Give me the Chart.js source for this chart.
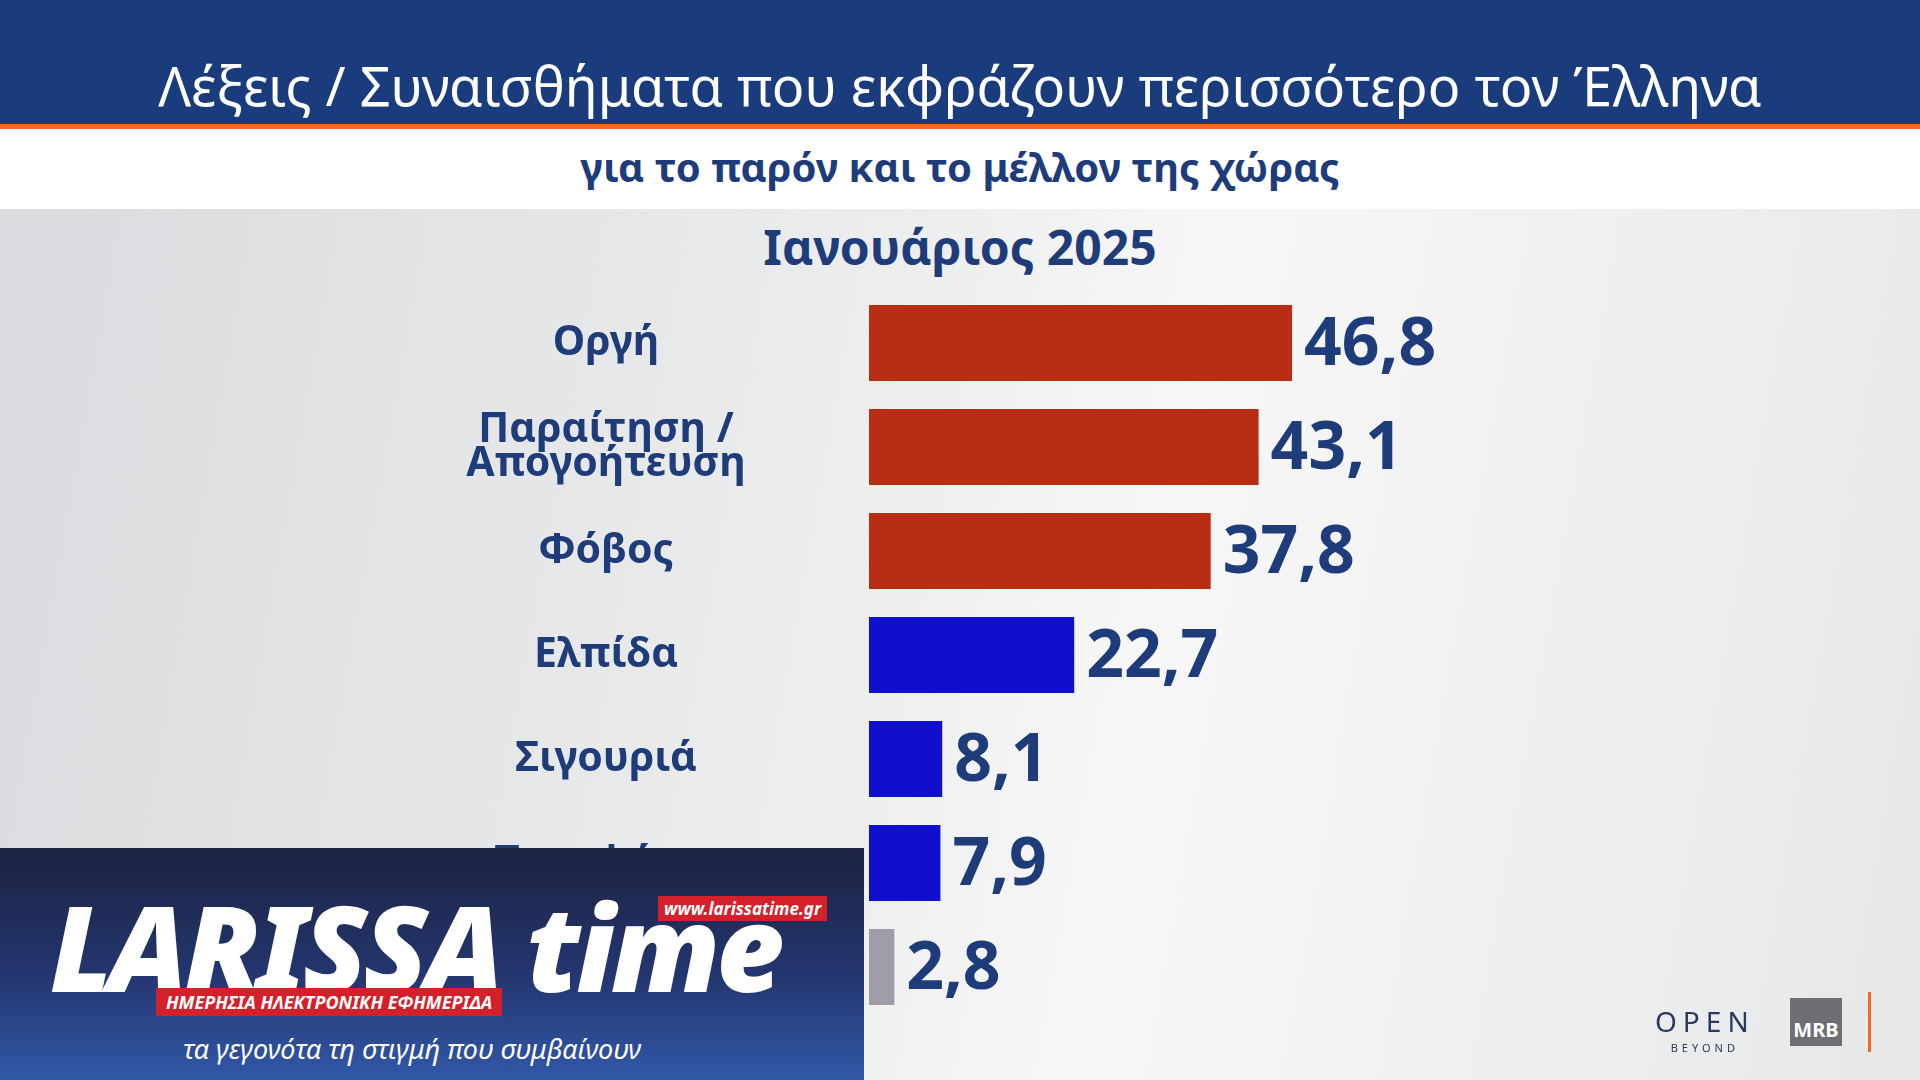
<!DOCTYPE html>
<html>
<head>
<meta charset="utf-8">
<script src="https://cdn.jsdelivr.net/npm/chart.js@4"></script>
<style>
  body { margin:0; width:1920px; height:1080px; overflow:hidden; font-family:"Noto Sans",sans-serif;
    background: linear-gradient(100deg,#d9dadd 0%,#eceded 45%,#f7f7f7 60%,#e6e7e9 100%); position:relative; }
  #head { position:absolute; left:0; top:0; width:1920px; height:124px; background:#1a3c7c; color:#fff;
    font-size:54px; text-align:center; line-height:170px; }
  #orange { position:absolute; left:0; top:124px; width:1920px; height:5px; background:#f26a21; }
  #sub { position:absolute; left:0; top:129px; width:1920px; height:80px; background:#fff; color:#1f3c7a;
    font-weight:bold; font-size:40px; text-align:center; line-height:76px; }
  #period { position:absolute; left:0; top:214px; width:1920px; text-align:center; color:#1f3c7a;
    font-weight:bold; font-size:48px; }
  #wrap { position:absolute; left:343px; top:291px; width:1430px; height:728px; }
  #logo { position:absolute; left:0; top:848px; width:864px; height:232px;
    background:linear-gradient(180deg,#1c2340 0%,#243670 55%,#3158a8 100%); color:#fff; }
  #logo .big { position:absolute; left:50px; top:18px; font-size:118px; font-weight:900; font-style:italic; letter-spacing:-4px; }
  #logo .url { position:absolute; left:658px; top:48px; background:#d4202a; font-size:17px; font-weight:bold; font-style:italic; padding:1px 6px; }
  #logo .red { position:absolute; left:156px; top:140px; background:#d4202a; font-size:18px; font-weight:bold; font-style:italic; padding:2px 10px; }
  #logo .tag { position:absolute; left:183px; top:182px; font-size:27px; font-style:italic; }
  #open { position:absolute; left:1655px; top:1002px; color:#2a3a5a; font-size:28px; letter-spacing:6px; }
  #open small { display:block; font-size:11px; letter-spacing:4px; text-align:center; }
  #mrb { position:absolute; left:1790px; top:998px; width:52px; height:48px; background:#6d6f73; color:#fff;
    font-weight:bold; font-size:20px; text-align:center; line-height:64px; }
  #bar { position:absolute; left:1868px; top:992px; width:3px; height:60px; background:#f26a21; }
</style>
</head>
<body>
<div id="head">Λέξεις / Συναισθήματα που εκφράζουν περισσότερο τον Έλληνα</div>
<div id="orange"></div>
<div id="sub">για το παρόν και το μέλλον της χώρας</div>
<div id="period">Ιανουάριος 2025</div>
<div id="wrap"><canvas id="barChart"></canvas></div>
<div id="open">OPEN<small>BEYOND</small></div>
<div id="mrb">MRB</div>
<div id="bar"></div>
<div id="logo">
  <div class="big">LARISSA time</div>
  <div class="url">www.larissatime.gr</div>
  <div class="red">ΗΜΕΡΗΣΙΑ ΗΛΕΚΤΡΟΝΙΚΗ ΕΦΗΜΕΡΙΔΑ</div>
  <div class="tag">τα γεγονότα τη στιγμή που συμβαίνουν</div>
</div>
<script>
// Κατηγορίες και τιμές
const categories = ['Οργή', ['Παραίτηση /', 'Απογοήτευση'], 'Φόβος', 'Ελπίδα', 'Σιγουριά', 'Περηφάνια', 'ΔΓ/ΔΑ'];
const values = [46.8, 43.1, 37.8, 22.7, 8.1, 7.9, 2.8];
const colors = ['#b82e14', '#b82e14', '#b82e14', '#1010cc', '#1010cc', '#1010cc', '#a09ca8'];

// Ετικέτες τιμών και κατηγοριών
const labelsPlugin = {
  id: 'labelsPlugin',
  afterDatasetsDraw(chart) {
    const ctx = chart.ctx;
    const yScale = chart.scales.y;
    ctx.save();
    ctx.textBaseline = 'middle';
    ctx.fillStyle = '#1f3c7a';
    ctx.font = 'bold 66px "Noto Sans"';
    chart.getDatasetMeta(0).data.forEach((bar, i) => {
      ctx.textAlign = 'left';
      ctx.fillText(values[i].toFixed(1).replace('.', ','), bar.x + 12, bar.y + 3);
    });
    ctx.font = 'bold 41px "Noto Sans"';
    ctx.textAlign = 'center';
    const cx = yScale.left + yScale.width / 2;
    categories.forEach((c, i) => {
      const y = yScale.getPixelForTick(i);
      const lines = Array.isArray(c) ? c : [c];
      lines.forEach((l, j) => ctx.fillText(l, cx, y + (j - (lines.length - 1) / 2) * 34));
    });
    ctx.restore();
  }
};

const ctx = document.getElementById('barChart').getContext('2d');
const myChart = new Chart(ctx, {
  type: 'bar',
  data: {
    labels: categories,
    datasets: [{ data: values, backgroundColor: colors, barPercentage: 0.73, categoryPercentage: 1 }]
  },
  options: {
    indexAxis: 'y',
    responsive: true,
    maintainAspectRatio: false,
    animation: false,
    layout: { padding: 0 },
    plugins: { legend: { display: false }, tooltip: { enabled: false } },
    scales: {
      x: { min: 0, max: 100, display: false },
      y: {
        grid: { display: false },
        border: { display: false },
        afterFit(scale) { scale.width = 526; scale.paddingTop = 0; scale.paddingBottom = 0; },
        ticks: { color: 'rgba(0,0,0,0)', font: { size: 1 }, padding: 0 }
      }
    }
  },
  plugins: [labelsPlugin]
});
</script>
</body>
</html>
